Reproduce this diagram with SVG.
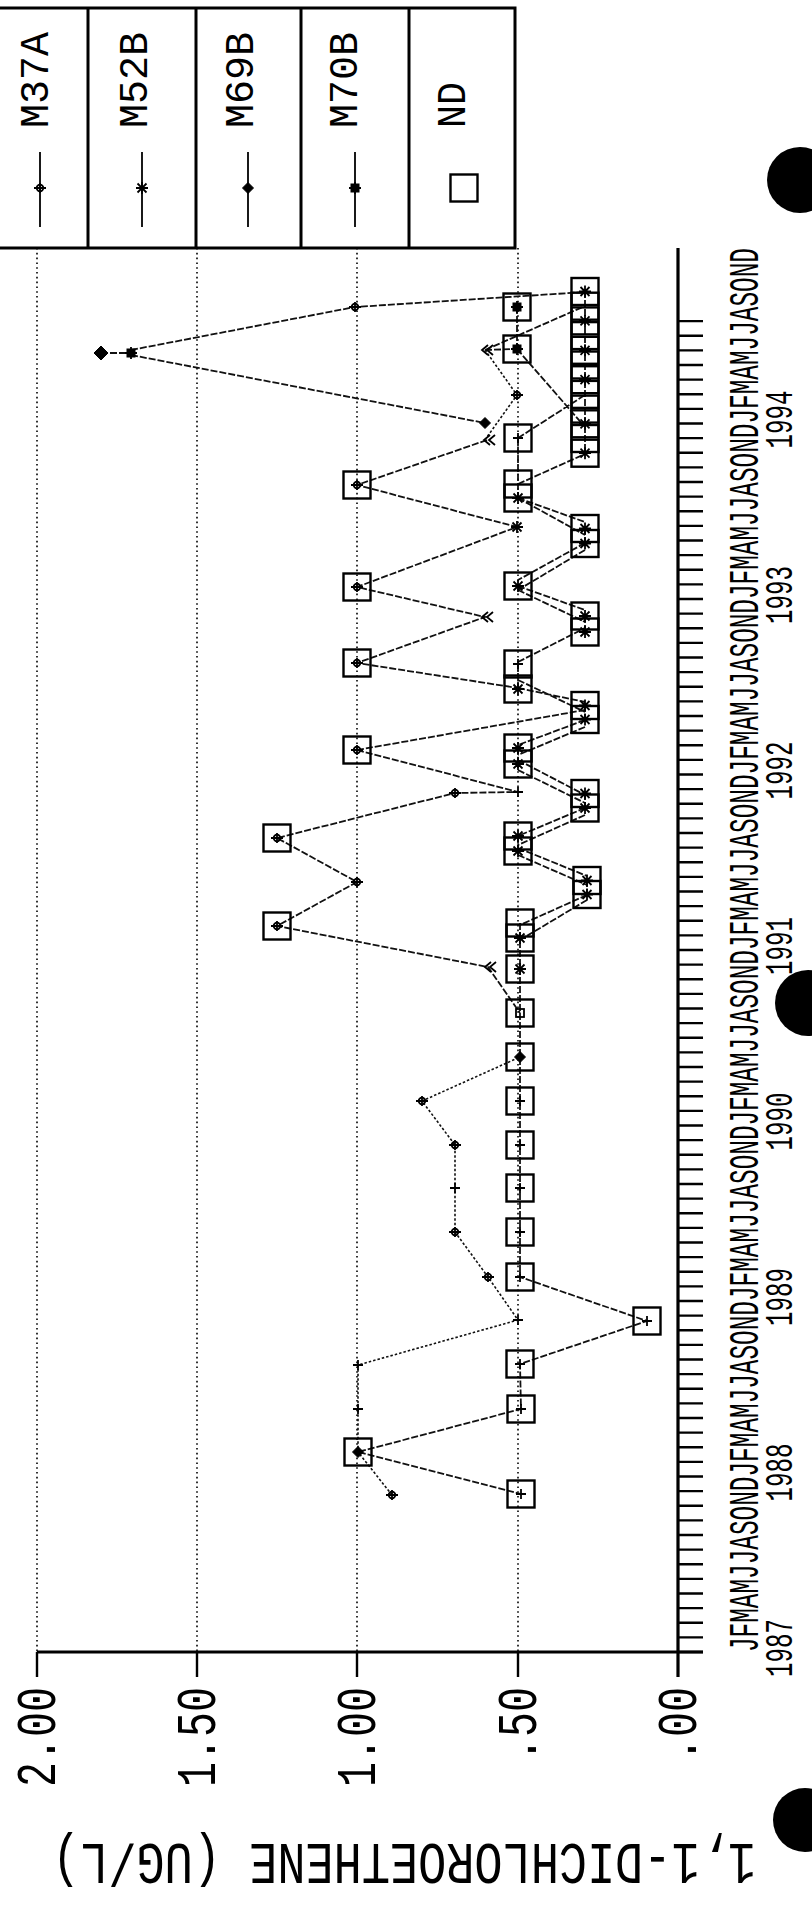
<svg xmlns="http://www.w3.org/2000/svg" xmlns:xlink="http://www.w3.org/1999/xlink" width="812" height="1907" viewBox="0 0 812 1907">
<style>
.bg{fill:#fff}
.grid{stroke:#000;stroke-width:1.6;stroke-dasharray:1.6 3.2;fill:none}
.axis{stroke:#000;stroke-width:3.2;fill:none}
.tk{stroke:#000;stroke-width:2.4;fill:none}
.lg{stroke:#000;stroke-width:3;fill:none}
.ln{stroke:#111;stroke-width:1.8;fill:none;stroke-dasharray:7 2}
.ln2{stroke:#111;stroke-width:1.6;fill:none;stroke-dasharray:2.5 2}
.nd{fill:none;stroke:#000;stroke-width:2.4}
.mk{stroke:#000;stroke-width:1.8;fill:none}
.mf{fill:#000;stroke:#000;stroke-width:1}
text{font-family:"Liberation Mono","DejaVu Sans Mono",monospace;fill:#000}
.lt{font-size:40px}
.mo{font-size:42px}
.yr{font-size:38px}
.vl{font-size:56px}
.ti{font-size:60px}
</style>
<defs>
<rect id="nd" x="-13.5" y="-13.5" width="27" height="27" class="nd"/>
<path id="pl" class="mk" d="M-5 0h10M0-5v10"/>
<path id="st" class="mk" d="M-6 0h12M0-6v12M-4.5-4.5l9 9M-4.5 4.5l9-9"/>
<path id="fd" class="mf" d="M0-5.5L5.5 0 0 5.5-5.5 0Z"/>
<path id="fdb" class="mf" d="M0-7L7 0 0 7-7 0Z"/>
<g id="fs"><rect class="mf" x="-4" y="-4" width="8" height="8"/><path class="mk" d="M-6 0h12M0-6v12"/></g>
<g id="m37"><circle cx="0" cy="0" r="3.3" class="mk"/><path class="mk" d="M-6 0h12M0-5v10"/></g>
<path id="cl" class="mk" d="M3-5L-3 0 3 5M8-5L2 0 8 5"/>
</defs>
<rect class="bg" x="0" y="0" width="812" height="1907"/>

<g id="legend">
<path class="lg" d="M0 8H515V248H0M88 8V248M196 8V248M301 8V248M409 8V248"/>
<g id="leg-m37a"><text class="lt" transform="translate(48,128) rotate(-90)" textLength="96" lengthAdjust="spacingAndGlyphs">M37A</text><path class="mk" d="M40 152V227"/><use href="#m37" x="40" y="188"/></g>
<g id="leg-m52b"><text class="lt" transform="translate(147,128) rotate(-90)" textLength="96" lengthAdjust="spacingAndGlyphs">M52B</text><path class="mk" d="M142 152V227"/><use href="#st" x="142" y="188"/></g>
<g id="leg-m69b"><text class="lt" transform="translate(253,128) rotate(-90)" textLength="96" lengthAdjust="spacingAndGlyphs">M69B</text><path class="mk" d="M248 152V227"/><use href="#fd" x="248" y="188"/></g>
<g id="leg-m70b"><text class="lt" transform="translate(357,128) rotate(-90)" textLength="96" lengthAdjust="spacingAndGlyphs">M70B</text><path class="mk" d="M355 152V227"/><use href="#fs" x="355" y="188"/></g>
<g id="leg-nd"><text class="lt" transform="translate(465,128) rotate(-90)" textLength="46" lengthAdjust="spacingAndGlyphs">ND</text><use href="#nd" x="464" y="188"/></g>
</g>

<g id="axes">
<path class="grid" d="M37 248V1652M197 248V1652M357 248V1652M518 248V1652"/>
<path class="axis" d="M37 1652H703M678 248V1677"/>
<path class="tk" d="M37 1652V1677M197 1652V1677M357 1652V1677M518 1652V1677"/>
<path class="tk" d="M678 1652h25m-25-14.625h25m-25-14.625h25m-25-14.625h25m-25-14.625h25m-25-14.625h25m-25-14.625h25m-25-14.625h25m-25-14.625h25m-25-14.625h25m-25-14.625h25m-25-14.625h25m-25-14.625h25m-25-14.625h25m-25-14.625h25m-25-14.625h25m-25-14.625h25m-25-14.625h25m-25-14.625h25m-25-14.625h25m-25-14.625h25m-25-14.625h25m-25-14.625h25m-25-14.625h25m-25-14.625h25m-25-14.625h25m-25-14.625h25m-25-14.625h25m-25-14.625h25m-25-14.625h25m-25-14.625h25m-25-14.625h25m-25-14.625h25m-25-14.625h25m-25-14.625h25m-25-14.625h25m-25-14.625h25m-25-14.625h25m-25-14.625h25m-25-14.625h25m-25-14.625h25m-25-14.625h25m-25-14.625h25m-25-14.625h25m-25-14.625h25m-25-14.625h25m-25-14.625h25m-25-14.625h25m-25-14.625h25m-25-14.625h25m-25-14.625h25m-25-14.625h25m-25-14.625h25m-25-14.625h25m-25-14.625h25m-25-14.625h25m-25-14.625h25m-25-14.625h25m-25-14.625h25m-25-14.625h25m-25-14.625h25m-25-14.625h25m-25-14.625h25m-25-14.625h25m-25-14.625h25m-25-14.625h25m-25-14.625h25m-25-14.625h25m-25-14.625h25m-25-14.625h25m-25-14.625h25m-25-14.625h25m-25-14.625h25m-25-14.625h25m-25-14.625h25m-25-14.625h25m-25-14.625h25m-25-14.625h25m-25-14.625h25m-25-14.625h25m-25-14.625h25m-25-14.625h25m-25-14.625h25m-25-14.625h25m-25-14.625h25m-25-14.625h25m-25-14.625h25m-25-14.625h25m-25-14.625h25m-25-14.625h25m-25-14.625h25m-25-14.625h25"/>
<text class="mo" transform="translate(758,1652) rotate(-90)" textLength="1404" lengthAdjust="spacingAndGlyphs">JFMAMJJASONDJFMAMJJASONDJFMAMJJASONDJFMAMJJASONDJFMAMJJASONDJFMAMJJASONDJFMAMJJASONDJFMAMJJASOND</text>
<g class="yr">
<text transform="translate(792,1677) rotate(-90)" textLength="58" lengthAdjust="spacingAndGlyphs">1987</text>
<text transform="translate(792,1501.5) rotate(-90)" textLength="58" lengthAdjust="spacingAndGlyphs">1988</text>
<text transform="translate(792,1326) rotate(-90)" textLength="58" lengthAdjust="spacingAndGlyphs">1989</text>
<text transform="translate(792,1150.5) rotate(-90)" textLength="58" lengthAdjust="spacingAndGlyphs">1990</text>
<text transform="translate(792,975) rotate(-90)" textLength="58" lengthAdjust="spacingAndGlyphs">1991</text>
<text transform="translate(792,799.5) rotate(-90)" textLength="58" lengthAdjust="spacingAndGlyphs">1992</text>
<text transform="translate(792,624) rotate(-90)" textLength="58" lengthAdjust="spacingAndGlyphs">1993</text>
<text transform="translate(792,448.5) rotate(-90)" textLength="58" lengthAdjust="spacingAndGlyphs">1994</text>
</g>
<g class="vl">
<text transform="translate(55,1787) rotate(-90)" textLength="100" lengthAdjust="spacingAndGlyphs">2.00</text>
<text transform="translate(215,1787) rotate(-90)" textLength="100" lengthAdjust="spacingAndGlyphs">1.50</text>
<text transform="translate(375,1787) rotate(-90)" textLength="100" lengthAdjust="spacingAndGlyphs">1.00</text>
<text transform="translate(536,1762) rotate(-90)" textLength="75" lengthAdjust="spacingAndGlyphs">.50</text>
<text transform="translate(696,1762) rotate(-90)" textLength="75" lengthAdjust="spacingAndGlyphs">.00</text>
</g>
<text class="ti" transform="translate(756,1844) rotate(180)" textLength="704" lengthAdjust="spacingAndGlyphs">1,1-DICHLOROETHENE (UG/L)</text>
</g>

<g id="connectors">
<path class="ln" d="M101 353L131 353M131 350L355 307L585 292M131 355L485 423M517 307V349M485 350L517 349M485 350L585 306M517 349L585 427M518 438L585 395M518 438V498M518 484L585 454M518 498L585 522M518 498L585 535M487 440L357 485L517 527L357 587L485 617L357 663L518 688M585 543L518 580M585 550L518 590M518 586L585 610M518 590L585 622M518 662L585 628M518 664V689M518 688L585 702M518 680L585 712M357 750L585 710M585 720L518 745M585 727L518 755M357 750L518 792L455 793L277 838L357 882L277 926L488 967L520 1013M518 760L585 795M518 770L585 803M585 808L518 836M585 815L518 845M518 848L587 876M518 855L587 885M587 895L520 925M587 900L520 940M518 748V764M518 836V851M585 291V453M585 528V544M585 616V632M585 705V720M585 793V808M587 880V895M520 923V1277L647 1321L520 1364L521 1409L358 1452L521 1494"/>
<path class="ln2" d="M485 350L517 395L487 437M392 1495L358 1452V1365L518 1320L488 1277L455 1232V1145L422 1101L520 1057"/>
</g>

<g id="nd-boxes">
<use href="#nd" x="517" y="307"/><use href="#fs" x="517" y="307"/>
<use href="#nd" x="517" y="349"/><use href="#fs" x="517" y="349"/>
<use href="#nd" x="585" y="291.5"/><use href="#st" x="585" y="291.5"/>
<use href="#nd" x="585" y="306.2"/>
<use href="#nd" x="585" y="320.9"/><use href="#st" x="585" y="320.9"/>
<use href="#nd" x="585" y="335.6"/>
<use href="#nd" x="585" y="350.3"/><use href="#st" x="585" y="350.3"/>
<use href="#nd" x="585" y="365"/>
<use href="#nd" x="585" y="379.7"/><use href="#st" x="585" y="379.7"/>
<use href="#nd" x="585" y="394.4"/>
<use href="#nd" x="585" y="409.1"/>
<use href="#nd" x="585" y="423.8"/><use href="#st" x="585" y="423.8"/>
<use href="#nd" x="585" y="438.5"/>
<use href="#nd" x="585" y="453.2"/><use href="#st" x="585" y="453.2"/>
<use href="#nd" x="518" y="438"/><use href="#pl" x="518" y="438"/>
<use href="#nd" x="518" y="484"/>
<use href="#nd" x="518" y="498"/><use href="#st" x="518" y="498"/>
<use href="#nd" x="357" y="485"/><use href="#m37" x="357" y="485"/>
<use href="#nd" x="585" y="528.5"/><use href="#st" x="585" y="528.5"/>
<use href="#nd" x="585" y="543.5"/><use href="#st" x="585" y="543.5"/>
<use href="#nd" x="357" y="587"/><use href="#m37" x="357" y="587"/>
<use href="#nd" x="518" y="586"/><use href="#st" x="518" y="586"/>
<use href="#nd" x="585" y="616"/><use href="#st" x="585" y="616"/>
<use href="#nd" x="585" y="632"/><use href="#st" x="585" y="632"/>
<use href="#nd" x="357" y="663"/><use href="#m37" x="357" y="663"/>
<use href="#nd" x="518" y="664"/><use href="#pl" x="518" y="664"/>
<use href="#nd" x="518" y="689"/><use href="#st" x="518" y="689"/>
<use href="#nd" x="585" y="705.5"/><use href="#st" x="585" y="705.5"/>
<use href="#nd" x="585" y="719.5"/><use href="#st" x="585" y="719.5"/>
<use href="#nd" x="357" y="750"/><use href="#m37" x="357" y="750"/>
<use href="#nd" x="518" y="748"/><use href="#st" x="518" y="748"/>
<use href="#nd" x="518" y="764"/><use href="#st" x="518" y="764"/>
<use href="#nd" x="585" y="793.5"/><use href="#st" x="585" y="793.5"/>
<use href="#nd" x="585" y="808"/><use href="#st" x="585" y="808"/>
<use href="#nd" x="518" y="836"/><use href="#st" x="518" y="836"/>
<use href="#nd" x="518" y="851"/><use href="#st" x="518" y="851"/>
<use href="#nd" x="587" y="880.5"/><use href="#st" x="587" y="880.5"/>
<use href="#nd" x="587" y="894.5"/><use href="#st" x="587" y="894.5"/>
<use href="#nd" x="277" y="838"/><use href="#m37" x="277" y="838"/>
<use href="#nd" x="277" y="926"/><use href="#m37" x="277" y="926"/>
<use href="#nd" x="520" y="923"/>
<use href="#nd" x="520" y="938"/><use href="#st" x="520" y="938"/>
<use href="#nd" x="520" y="969"/><use href="#st" x="520" y="969"/>
<use href="#nd" x="520" y="1013"/><rect class="mk" x="516" y="1009" width="8" height="8"/>
<use href="#nd" x="520" y="1057"/><use href="#fd" x="520" y="1057"/>
<use href="#nd" x="520" y="1101"/><use href="#pl" x="520" y="1101"/>
<use href="#nd" x="520" y="1145"/><use href="#pl" x="520" y="1145"/>
<use href="#nd" x="520" y="1188"/><use href="#pl" x="520" y="1188"/>
<use href="#nd" x="520" y="1232"/><use href="#pl" x="520" y="1232"/>
<use href="#nd" x="520" y="1277"/><use href="#pl" x="520" y="1277"/>
<use href="#nd" x="647" y="1321"/><use href="#pl" x="647" y="1321"/>
<use href="#nd" x="520" y="1364"/><use href="#pl" x="520" y="1364"/>
<use href="#nd" x="521" y="1409"/><use href="#pl" x="521" y="1409"/>
<use href="#nd" x="358" y="1452"/><use href="#fd" x="358" y="1452"/>
<use href="#nd" x="521" y="1494"/><use href="#pl" x="521" y="1494"/>
</g>

<g id="points">
<use href="#fdb" x="101" y="353"/><use href="#fs" x="131" y="353"/>
<use href="#m37" x="355" y="307"/>
<use href="#cl" x="485" y="350"/><use href="#cl" x="487" y="440"/><use href="#cl" x="485" y="617"/><use href="#cl" x="488" y="967"/>
<use href="#fd" x="485" y="423"/>
<use href="#m37" x="517" y="395"/>
<use href="#st" x="517" y="527"/>
<use href="#pl" x="518" y="792"/><use href="#m37" x="455" y="793"/>
<use href="#m37" x="357" y="882"/>
<use href="#m37" x="392" y="1495"/><use href="#pl" x="358" y="1409"/><use href="#pl" x="358" y="1365"/><use href="#pl" x="518" y="1320"/><use href="#m37" x="488" y="1277"/><use href="#m37" x="455" y="1232"/><use href="#pl" x="455" y="1188"/><use href="#m37" x="455" y="1145"/><use href="#m37" x="422" y="1101"/>
</g>

<g id="punch-holes">
<circle cx="800" cy="180" r="33" fill="#000"/>
<circle cx="808" cy="1003" r="33" fill="#000"/>
<circle cx="805" cy="1820" r="32" fill="#000"/>
</g>
</svg>
